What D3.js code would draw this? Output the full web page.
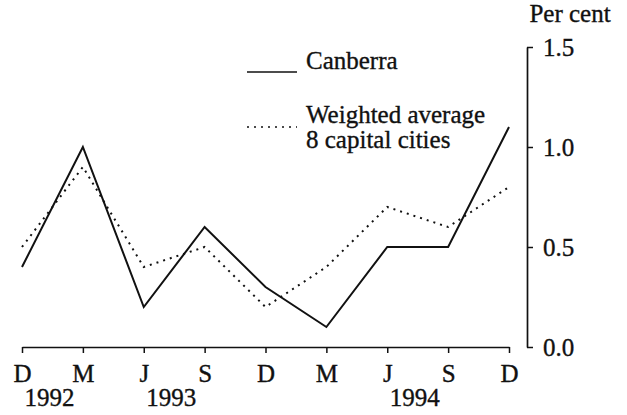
<!DOCTYPE html>
<html>
<head>
<meta charset="utf-8">
<script src="https://cdn.jsdelivr.net/npm/d3@7"></script>
<style>
  body { margin: 0; background: #fff; }
  svg text { font-family: "Liberation Serif", "DejaVu Serif", "Times New Roman", Times, serif; fill: #111; stroke: #111; stroke-width: 0.35px; }
</style>
</head>
<body>
<svg id="chart" width="627" height="415"></svg>
<script>
// quarters, Dec 1992 to Dec 1994
var quarters = ["D", "M", "J", "S", "D", "M", "J", "S", "D"];
var years = [{label: "1992", at: 0}, {label: "1993", at: 2}, {label: "1994", at: 6}];
var canberra = [0.4, 1.0, 0.2, 0.6, 0.3, 0.1, 0.5, 0.5, 1.1];
var weighted = [0.5, 0.9, 0.4, 0.5, 0.2, 0.4, 0.7, 0.6, 0.8];
var yTicks = [0, 0.5, 1.0, 1.5];

var svg = d3.select("#chart");
var fs = 25;

var x = d3.scaleLinear().domain([0, quarters.length - 1]).range([22, 509]);
var y = d3.scaleLinear().domain([0, 1.5]).range([347, 47]);
var axisX = 527;

// x axis
var xAxis = d3.axisBottom(x)
    .tickValues(d3.range(quarters.length))
    .tickFormat(function(d) { return quarters[d]; })
    .tickSizeInner(6)
    .tickSizeOuter(0)
    .tickPadding(11);

var gx = svg.append("g")
    .attr("transform", "translate(0," + y(0) + ")")
    .call(xAxis)
    .attr("font-family", null);
gx.select(".domain").attr("stroke", "#111").attr("stroke-width", 1.7);
gx.selectAll(".tick line").attr("stroke", "#111").attr("stroke-width", 1.5);
gx.selectAll(".tick text")
    .attr("font-size", fs)
    .attr("fill", "#111");

// years under the quarters
svg.selectAll(".year")
    .data(years)
    .enter().append("text")
    .attr("class", "year")
    .attr("x", function(d) { return (x(d.at) + x(d.at + 1)) / 2 - 3; })
    .attr("y", 406)
    .attr("text-anchor", "middle")
    .attr("font-size", fs)
    .text(function(d) { return d.label; });

// y axis on the right
var yAxis = d3.axisRight(y)
    .tickValues(yTicks)
    .tickFormat(d3.format(".1f"))
    .tickSizeInner(6)
    .tickSizeOuter(0)
    .tickPadding(10);

var gy = svg.append("g")
    .attr("transform", "translate(" + axisX + ",0)")
    .call(yAxis)
    .attr("font-family", null);
gy.select(".domain").attr("stroke", "#111").attr("stroke-width", 1.7);
gy.selectAll(".tick line").attr("stroke", "#111").attr("stroke-width", 1.5);
gy.selectAll(".tick text")
    .attr("font-size", fs)
    .attr("fill", "#111");

svg.append("text")
    .attr("x", 570)
    .attr("y", 22)
    .attr("text-anchor", "middle")
    .attr("font-size", fs)
    .text("Per cent");

// lines
var line = d3.line()
    .x(function(d, i) { return x(i); })
    .y(function(d) { return y(d); });

svg.append("path")
    .datum(weighted)
    .attr("fill", "none")
    .attr("stroke", "#111")
    .attr("stroke-width", 2)
    .attr("stroke-dasharray", "2,5")
    .attr("d", line);

svg.append("path")
    .datum(canberra)
    .attr("fill", "none")
    .attr("stroke", "#111")
    .attr("stroke-width", 2)
    .attr("d", line);

// legend
var legend = svg.append("g");
legend.append("line")
    .attr("x1", 247).attr("x2", 297)
    .attr("y1", 72).attr("y2", 72)
    .attr("stroke", "#111").attr("stroke-width", 1.6);
legend.append("text")
    .attr("x", 306).attr("y", 69)
    .attr("font-size", fs)
    .text("Canberra");

legend.append("line")
    .attr("x1", 247).attr("x2", 297)
    .attr("y1", 127).attr("y2", 127)
    .attr("stroke", "#111").attr("stroke-width", 1.6)
    .attr("stroke-dasharray", "2,5");
legend.append("text")
    .attr("x", 306).attr("y", 123)
    .attr("font-size", fs)
    .text("Weighted average");
legend.append("text")
    .attr("x", 306).attr("y", 148)
    .attr("font-size", fs)
    .text("8 capital cities");
</script>
</body>
</html>
